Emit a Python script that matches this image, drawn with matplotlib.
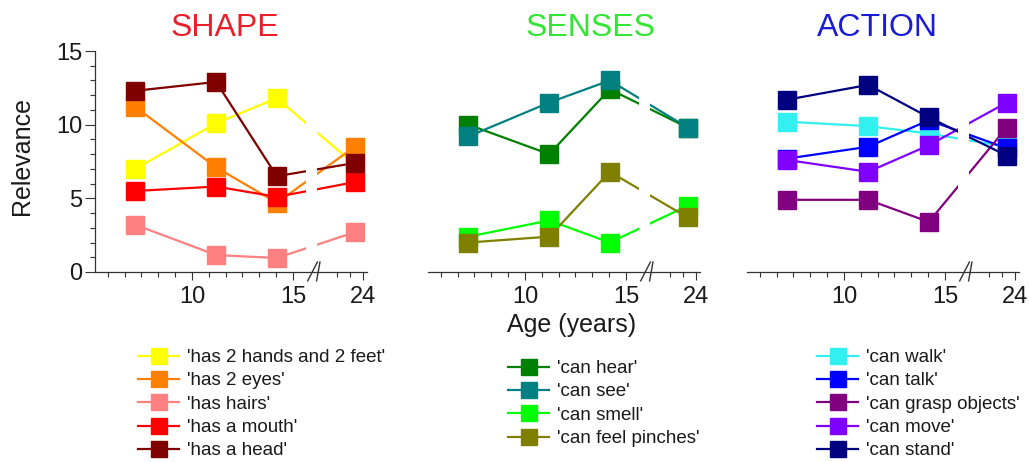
import numpy as np
import matplotlib.pyplot as plt
from matplotlib.lines import Line2D
from matplotlib.ticker import FixedLocator, MultipleLocator
import matplotlib.transforms as mtransforms

plt.rcParams['font.family'] = ['Liberation Sans', 'DejaVu Sans']

# ages of the four groups (years); the last group sits past the axis break
ages = [7.2, 11.2, 14.2, 22.6]

# SHAPE
has_hands_feet = [7.0, 10.1, 11.8, 7.3]
has_eyes = [11.2, 7.1, 4.7, 8.5]
has_hairs = [3.2, 1.15, 0.95, 2.7]
has_mouth = [5.5, 5.8, 5.1, 6.1]
has_head = [12.3, 12.9, 6.5, 7.4]

# SENSES
can_hear = [10.0, 8.0, 12.4, 9.8]
can_see = [9.2, 11.5, 13.0, 9.8]
can_smell = [2.4, 3.5, 2.0, 4.5]
can_feel_pinches = [2.0, 2.4, 6.8, 3.7]

# ACTION
can_walk = [10.2, 9.9, 9.4, 8.5]
can_talk = [7.7, 8.5, 10.3, 8.4]
can_grasp = [4.9, 4.9, 3.4, 9.8]
can_move = [7.6, 6.8, 8.6, 11.5]
can_stand = [11.7, 12.7, 10.5, 7.9]

panels = [
    ("SHAPE", "#e8202a",
     ["'has 2 hands and 2 feet'", "'has 2 eyes'", "'has hairs'", "'has a mouth'", "'has a head'"],
     [has_hands_feet, has_eyes, has_hairs, has_mouth, has_head],
     ["#ffff00", "#ff8000", "#ff8080", "#ff0000", "#800000"]),
    ("SENSES", "#33e633",
     ["'can hear'", "'can see'", "'can smell'", "'can feel pinches'"],
     [can_hear, can_see, can_smell, can_feel_pinches],
     ["#008000", "#008080", "#00ff00", "#808000"]),
    ("ACTION", "#1a1ad9",
     ["'can walk'", "'can talk'", "'can grasp objects'", "'can move'", "'can stand'"],
     [can_walk, can_talk, can_grasp, can_move, can_stand],
     ["#33f0f0", "#0000ff", "#800080", "#8000ff", "#000080"]),
]

BREAK = 16.2
SQUEEZE = 0.29


def fwd(x):
    x = np.asarray(x, dtype=float)
    return np.where(x <= BREAK, x, BREAK + (x - BREAK) * SQUEEZE)


def inv(y):
    y = np.asarray(y, dtype=float)
    return np.where(y <= BREAK, y, BREAK + (y - BREAK) / SQUEEZE)


W, H = 1029, 462
fig = plt.figure(figsize=(W / 100, H / 100), dpi=100)

ax_lefts = [95, 428, 747]
title_x = [225, 591, 877]
legend_pos = [(138, 349), (508, 360), (817, 349)]
spine_col = "#333333"
text_col = "#1a1a1a"

minor_x = [10 + n * 5 / 6 for n in range(-5, 6) if n != 0 and n != 6] + [19.56, 21.78]

for i, (title, tcol, labels, series, colors) in enumerate(panels):
    ax = fig.add_axes([ax_lefts[i] / W, 1 - 272 / H, 272 / W, (272 - 51) / H])
    ax.set_xscale('function', functions=(fwd, inv))
    ax.set_xlim(5.2, 24.7)
    ax.set_ylim(0, 15)

    for vals, c in zip(series, colors):
        ax.plot(ages, vals, color=c, lw=1.6, zorder=2, clip_on=False)
    for vals, c in zip(series, colors):
        ax.plot(ages, vals, ls='none', marker='s', ms=13, color=c, mec=c,
                zorder=3, clip_on=False)

    # gap in the lines at the axis break
    ax.axvspan(15.65, 16.25, ymin=0.03, ymax=1, color='white', lw=0, zorder=2.5)

    ax.xaxis.set_major_locator(FixedLocator([10, 15, 24]))
    ax.xaxis.set_minor_locator(FixedLocator(minor_x))
    ax.tick_params(axis='x', which='major', length=6, width=0.8, color=spine_col,
                   labelsize=17, labelcolor=text_col, pad=4)
    ax.tick_params(axis='x', which='minor', length=3.5, width=0.8, color=spine_col)

    for s in ['top', 'right']:
        ax.spines[s].set_visible(False)
    ax.spines['bottom'].set_color(spine_col)
    ax.spines['bottom'].set_linewidth(0.9)

    if i == 0:
        ax.spines['left'].set_color(spine_col)
        ax.spines['left'].set_linewidth(0.9)
        ax.set_yticks([0, 5, 10, 15])
        ax.yaxis.set_minor_locator(MultipleLocator(1))
        ax.tick_params(axis='y', which='major', length=7, width=0.8, color=spine_col,
                       labelsize=17, labelcolor=text_col, pad=2)
        ax.tick_params(axis='y', which='minor', length=3.5, width=0.8, color=spine_col)
    else:
        ax.spines['left'].set_visible(False)
        ax.tick_params(axis='y', which='both', left=False, labelleft=False)

    # break marks "//" on the x axis
    trans = mtransforms.blended_transform_factory(ax.transData, ax.transAxes)
    for dx in (-0.22, 0.22):
        ax.plot([BREAK + dx - 0.25, BREAK + dx + 0.25], [-0.04, 0.045], color=spine_col,
                lw=1.0, transform=trans, clip_on=False, zorder=4)

    fig.text(title_x[i] / W, 1 - 28 / H, title, color=tcol, fontsize=23,
             ha='center', va='center')

    handles = [Line2D([], [], color=c, lw=1.6, marker='s', ms=12, mec=c) for c in colors]
    lx, ly = legend_pos[i]
    fig.legend(handles, labels, loc='upper left', bbox_to_anchor=(lx / W, 1 - ly / H),
               frameon=False, fontsize=13.5, handlelength=2.2, handletextpad=0.4,
               labelspacing=0.33, borderpad=0, borderaxespad=0, labelcolor=text_col)

fig.text(22 / W, 1 - 156 / H, "Relevance", rotation=90, fontsize=18,
         ha='center', va='center', color=text_col)
fig.text(572 / W, 1 - 325 / H, "Age (years)", fontsize=18,
         ha='center', va='center', color=text_col)

fig.savefig("out.png", dpi=100)
